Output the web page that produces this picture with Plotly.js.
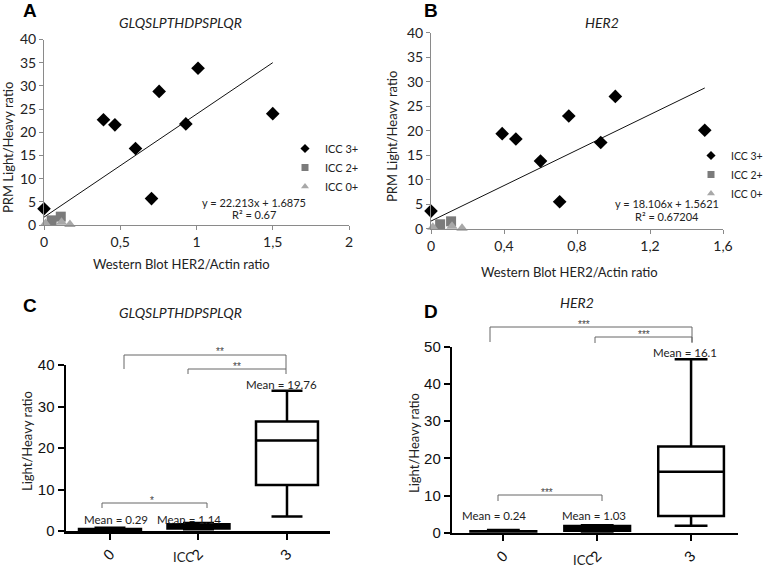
<!DOCTYPE html>
<html>
<head>
<meta charset="utf-8">
<script src="https://cdn.plot.ly/plotly-3.0.1.min.js"></script>
<style>html,body{margin:0;padding:0;background:#fff}#chart{width:768px;height:567px}</style>
</head>
<body>
<div id="chart"></div>
<script>
// ---------- DATA ----------
// Panel A/B : Western blot HER2/Actin ratio (x) vs PRM Light/Heavy ratio (y)
const wbICC3 = [0.0, 0.39, 0.465, 0.6, 0.705, 0.755, 0.93, 1.01, 1.5];
const prmA_ICC3 = [3.5, 22.7, 21.6, 16.5, 5.7, 28.8, 21.8, 33.8, 24.0];
const prmB_ICC3 = [3.6, 19.4, 18.3, 13.8, 5.5, 23.0, 17.6, 27.0, 20.1];
const wbICC2 = [0.05, 0.11];
const prmA_ICC2 = [1.0, 1.8];
const prmB_ICC2 = [0.9, 1.5];
const wbICC0 = [0.01, 0.115, 0.17];
const prmA_ICC0 = [0.3, 0.6, 0.1];
const prmB_ICC0 = [0.3, 0.5, 0.1];
const fitA = {slope: 22.213, intercept: 1.6875};
const fitB = {slope: 18.106, intercept: 1.5621};
const fitRange = [0, 1.5];
const eqA = ["y = 22.213x + 1.6875", "R² = 0.67"];
const eqB = ["y = 18.106x + 1.5621", "R² = 0.67204"];
const legendNames = ["ICC 3+", "ICC 2+", "ICC 0+"];
const xTicksA = [0, 0.5, 1, 1.5, 2];
const xTickTextA = ["0", "0,5", "1", "1,5", "2"];
const xTicksB = [0, 0.4, 0.8, 1.2, 1.6];
const xTickTextB = ["0", "0,4", "0,8", "1,2", "1,6"];
const yTicksAB = [0, 5, 10, 15, 20, 25, 30, 35, 40];

// Panel C/D : Light/Heavy ratio by ICC score (box stats)
const iccCategories = ["0", "2", "3"];
const boxC = {lower:[0.0, 0.4, 3.5], q1:[0.1, 0.6, 11.1], median:[0.25, 1.2, 21.8], q3:[0.5, 1.6, 26.4], upper:[0.8, 1.9, 33.8]};
const boxD = {lower:[0.0, 0.2, 1.9], q1:[0.05, 0.5, 4.5], median:[0.2, 1.1, 16.4], q3:[0.4, 1.8, 23.2], upper:[0.7, 2.0, 46.6]};
const meansC = [0.29, 1.14, 19.76];
const meansD = [0.24, 1.03, 16.1];
const yTicksC = [0, 10, 20, 30, 40];
const yTicksD = [0, 10, 20, 30, 40, 50];

// ---------- LAYOUT HELPERS ----------
const W = 768, H = 567;
const px = x => x / W;
const py = y => 1 - y / H;
const FONT = "Lato, 'Open Sans', sans-serif";
const GP = "'Liberation Sans', Arial, sans-serif";

const catPos = iccCategories.map((c, i) => i);
const lineY = f => fitRange.map(x => f.slope * x + f.intercept);

function scatterAxisX(domain, range, tv, tt, anchor) {
  return {domain: domain, range: range, tickvals: tv, ticktext: tt, showline: true, linecolor: '#8a8a8a', linewidth: 1,
    ticks: 'outside', ticklen: 4, tickcolor: '#8a8a8a', showgrid: false, zeroline: false, anchor: anchor,
    tickfont: {family: FONT, size: 14, color: '#222'}, fixedrange: true};
}
function scatterAxisY(domain, anchor) {
  return {domain: domain, range: [0, 40], tickvals: yTicksAB, showline: true, linecolor: '#8a8a8a', linewidth: 1,
    ticks: 'outside', ticklen: 4, tickcolor: '#8a8a8a', showgrid: false, zeroline: false, anchor: anchor,
    tickfont: {family: FONT, size: 14, color: '#222'}, fixedrange: true};
}
function boxAxisX(domain, range, anchor) {
  return {domain: domain, range: range, tickvals: catPos, ticktext: iccCategories, showline: true, linecolor: '#000', linewidth: 2.5,
    ticks: 'outside', ticklen: 6, tickwidth: 2, tickcolor: '#000', tickangle: -45, showgrid: false, zeroline: false, anchor: anchor,
    tickfont: {family: GP, size: 15, color: '#111'}, fixedrange: true};
}
function boxAxisY(domain, range, tv, anchor) {
  return {domain: domain, range: range, tickvals: tv, showline: true, linecolor: '#000', linewidth: 2.5,
    ticks: 'outside', ticklen: 6, tickwidth: 2, tickcolor: '#000', showgrid: false, zeroline: false, anchor: anchor,
    tickfont: {family: GP, size: 15, color: '#111'}, fixedrange: true};
}

const traces = [];
function scatterSet(xa, ya, y3, y2, y0, fit, legendId) {
  traces.push({type:'scatter', mode:'lines', x: fitRange, y: lineY(fit), xaxis: xa, yaxis: ya,
    line:{color:'#111', width:1}, showlegend:false, hoverinfo:'skip'});
  traces.push({type:'scatter', mode:'markers', x: wbICC3, y: y3, xaxis: xa, yaxis: ya, cliponaxis:false,
    marker:{symbol:'diamond', size:10.5, color:'#000'}, showlegend:false});
  traces.push({type:'scatter', mode:'markers', x: wbICC2, y: y2, xaxis: xa, yaxis: ya, cliponaxis:false,
    marker:{symbol:'square', size:10, color:'#7b7b7b'}, showlegend:false});
  traces.push({type:'scatter', mode:'markers', x: wbICC0, y: y0, xaxis: xa, yaxis: ya, cliponaxis:false,
    marker:{symbol:'triangle-up', size:10, color:'#a8a8a8'}, showlegend:false});
  // legend entries
  const syms = ['diamond', 'square', 'triangle-up'];
  const cols = ['#000', '#7b7b7b', '#a8a8a8'];
  const sizes = [7, 7, 7];
  legendNames.forEach((n, i) => traces.push({type:'scatter', mode:'markers', x:[null], y:[null], xaxis: xa, yaxis: ya,
    name: n, legend: legendId, marker:{symbol: syms[i], size: sizes[i], color: cols[i]}, showlegend: true}));
}
scatterSet('x', 'y', prmA_ICC3, prmA_ICC2, prmA_ICC0, fitA, 'legend');
scatterSet('x2', 'y2', prmB_ICC3, prmB_ICC2, prmB_ICC0, fitB, 'legend2');

function boxSet(xa, ya, b) {
  traces.push({type:'box', x: catPos, q1: b.q1, median: b.median, q3: b.q3, lowerfence: b.lower, upperfence: b.upper,
    xaxis: xa, yaxis: ya, width: 0.7, whiskerwidth: 0.5, fillcolor: '#fff', line:{color:'#000', width:2.5},
    boxpoints: false, showlegend: false, hoverinfo: 'skip'});
}
boxSet('x3', 'y3', boxC);
boxSet('x4', 'y4', boxD);

// ---------- ANNOTATIONS ----------
const ann = [];
function T(text, x, y, o) {
  o = o || {};
  ann.push(Object.assign({text: text, xref:'paper', yref:'paper', x: px(x), y: py(y), xanchor:'center', yanchor:'middle',
    showarrow:false, font:{family: FONT, size: 13, color:'#222'}}, o));
}
// panel letters
T('<b>A</b>', 30, 10, {font:{family: GP, size: 19, color:'#000'}});
T('<b>B</b>', 431, 10, {font:{family: GP, size: 19, color:'#000'}});
T('<b>C</b>', 30, 305, {font:{family: GP, size: 19, color:'#000'}});
T('<b>D</b>', 431, 311, {font:{family: GP, size: 19, color:'#000'}});
// titles
T('<i>GLQSLPTHDPSPLQR</i>', 180, 22, {font:{family: FONT, size: 14, color:'#222'}});
T('<i>HER2</i>', 602, 22, {font:{family: FONT, size: 14, color:'#222'}});
T('<i>GLQSLPTHDPSPLQR</i>', 180, 312, {font:{family: FONT, size: 14, color:'#222'}});
T('<i>HER2</i>', 577, 302, {font:{family: FONT, size: 14, color:'#222'}});
// axis titles
T('Western Blot HER2/Actin ratio', 181, 264, {font:{family: FONT, size: 13, color:'#222'}});
T('Western Blot HER2/Actin ratio', 569, 272, {font:{family: FONT, size: 13, color:'#222'}});
T('PRM Light/Heavy ratio', 8, 148, {textangle: -90, font:{family: FONT, size: 13, color:'#222'}});
T('PRM Light/Heavy ratio', 392, 137, {textangle: -90, font:{family: FONT, size: 13, color:'#222'}});
T('Light/Heavy ratio', 27, 441, {textangle: -90, font:{family: FONT, size: 13, color:'#222'}});
T('Light/Heavy ratio', 414, 443, {textangle: -90, font:{family: FONT, size: 13, color:'#222'}});
T('ICC', 183, 557, {font:{family: FONT, size: 13, color:'#222'}});
T('ICC', 583, 560, {font:{family: FONT, size: 13, color:'#222'}});
// regression equations
T(eqA[0], 254, 202, {font:{family: FONT, size: 11, color:'#222'}});
T(eqA[1], 254, 214, {font:{family: FONT, size: 11, color:'#222'}});
T(eqB[0], 667, 203, {font:{family: FONT, size: 11, color:'#222'}});
T(eqB[1], 667, 216, {font:{family: FONT, size: 11, color:'#222'}});
// means
const fmt = v => 'Mean = ' + v;
const MF = {font:{family: FONT, size: 11.5, color:'#222'}};
T(fmt(meansC[0]), 116, 519, MF);
T(fmt(meansC[1]), 189, 519, MF);
T(fmt(meansC[2]), 281, 384, MF);
T(fmt(meansD[0]), 494, 515, MF);
T(fmt(meansD[1]), 594, 515, MF);
T(fmt(meansD[2]), 685, 352, MF);

// significance brackets
const shapes = [];
function bracket(x0, x1, y, yd, stars, sx, sy) {
  shapes.push({type:'path', xref:'paper', yref:'paper',
    path: `M ${px(x0)},${py(yd)} L ${px(x0)},${py(y)} L ${px(x1)},${py(y)} L ${px(x1)},${py(yd)}`,
    line:{color:'#666', width:1}});
  T(stars, sx, sy, {font:{family: GP, size: 10, color:'#444'}});
}
bracket(124, 286, 355, 369, '**', 220, 351);
bracket(188, 286, 369, 374, '**', 237, 366);
bracket(102, 207, 503, 508, '*', 152, 500);
bracket(490, 692, 327, 342, '***', 584, 324);
bracket(595, 692, 337, 343, '***', 644, 334);
bracket(498, 602, 495, 501, '***', 547, 492);

const layout = {
  width: W, height: H, margin:{l:0, r:0, t:0, b:0, autoexpand:false}, paper_bgcolor:'#fff', plot_bgcolor:'rgba(0,0,0,0)',
  xaxis: scatterAxisX([px(44), px(349)], [0, 2], xTicksA, xTickTextA, 'y'),
  yaxis: scatterAxisY([py(225), py(39.5)], 'x'),
  xaxis2: scatterAxisX([px(431), px(723)], [0, 1.6], xTicksB, xTickTextB, 'y2'),
  yaxis2: scatterAxisY([py(228.7), py(32.7)], 'x2'),
  xaxis3: boxAxisX([px(66), px(330)], [-0.497, 2.486], 'y3'),
  yaxis3: boxAxisY([py(531), py(365)], [0, 40], yTicksC, 'x3'),
  xaxis4: boxAxisX([px(452.3), px(738)], [-0.544, 2.50], 'y4'),
  yaxis4: boxAxisY([py(532.7), py(346.7)], [0, 50], yTicksD, 'x4'),
  legend: {x: px(285), y: py(134), xanchor:'left', yanchor:'top', bgcolor:'rgba(0,0,0,0)', tracegroupgap: 0,
    font:{family: FONT, size: 11, color:'#222'}, itemwidth: 30},
  legend2: {x: 1, y: py(141), xanchor:'right', yanchor:'top', bgcolor:'rgba(0,0,0,0)', tracegroupgap: 0,
    font:{family: FONT, size: 10.5, color:'#222'}, itemwidth: 30},
  showlegend: true,
  annotations: ann,
  shapes: shapes
};
Plotly.newPlot('chart', traces, layout, {displayModeBar:false, staticPlot:true});
</script>
</body>
</html>
